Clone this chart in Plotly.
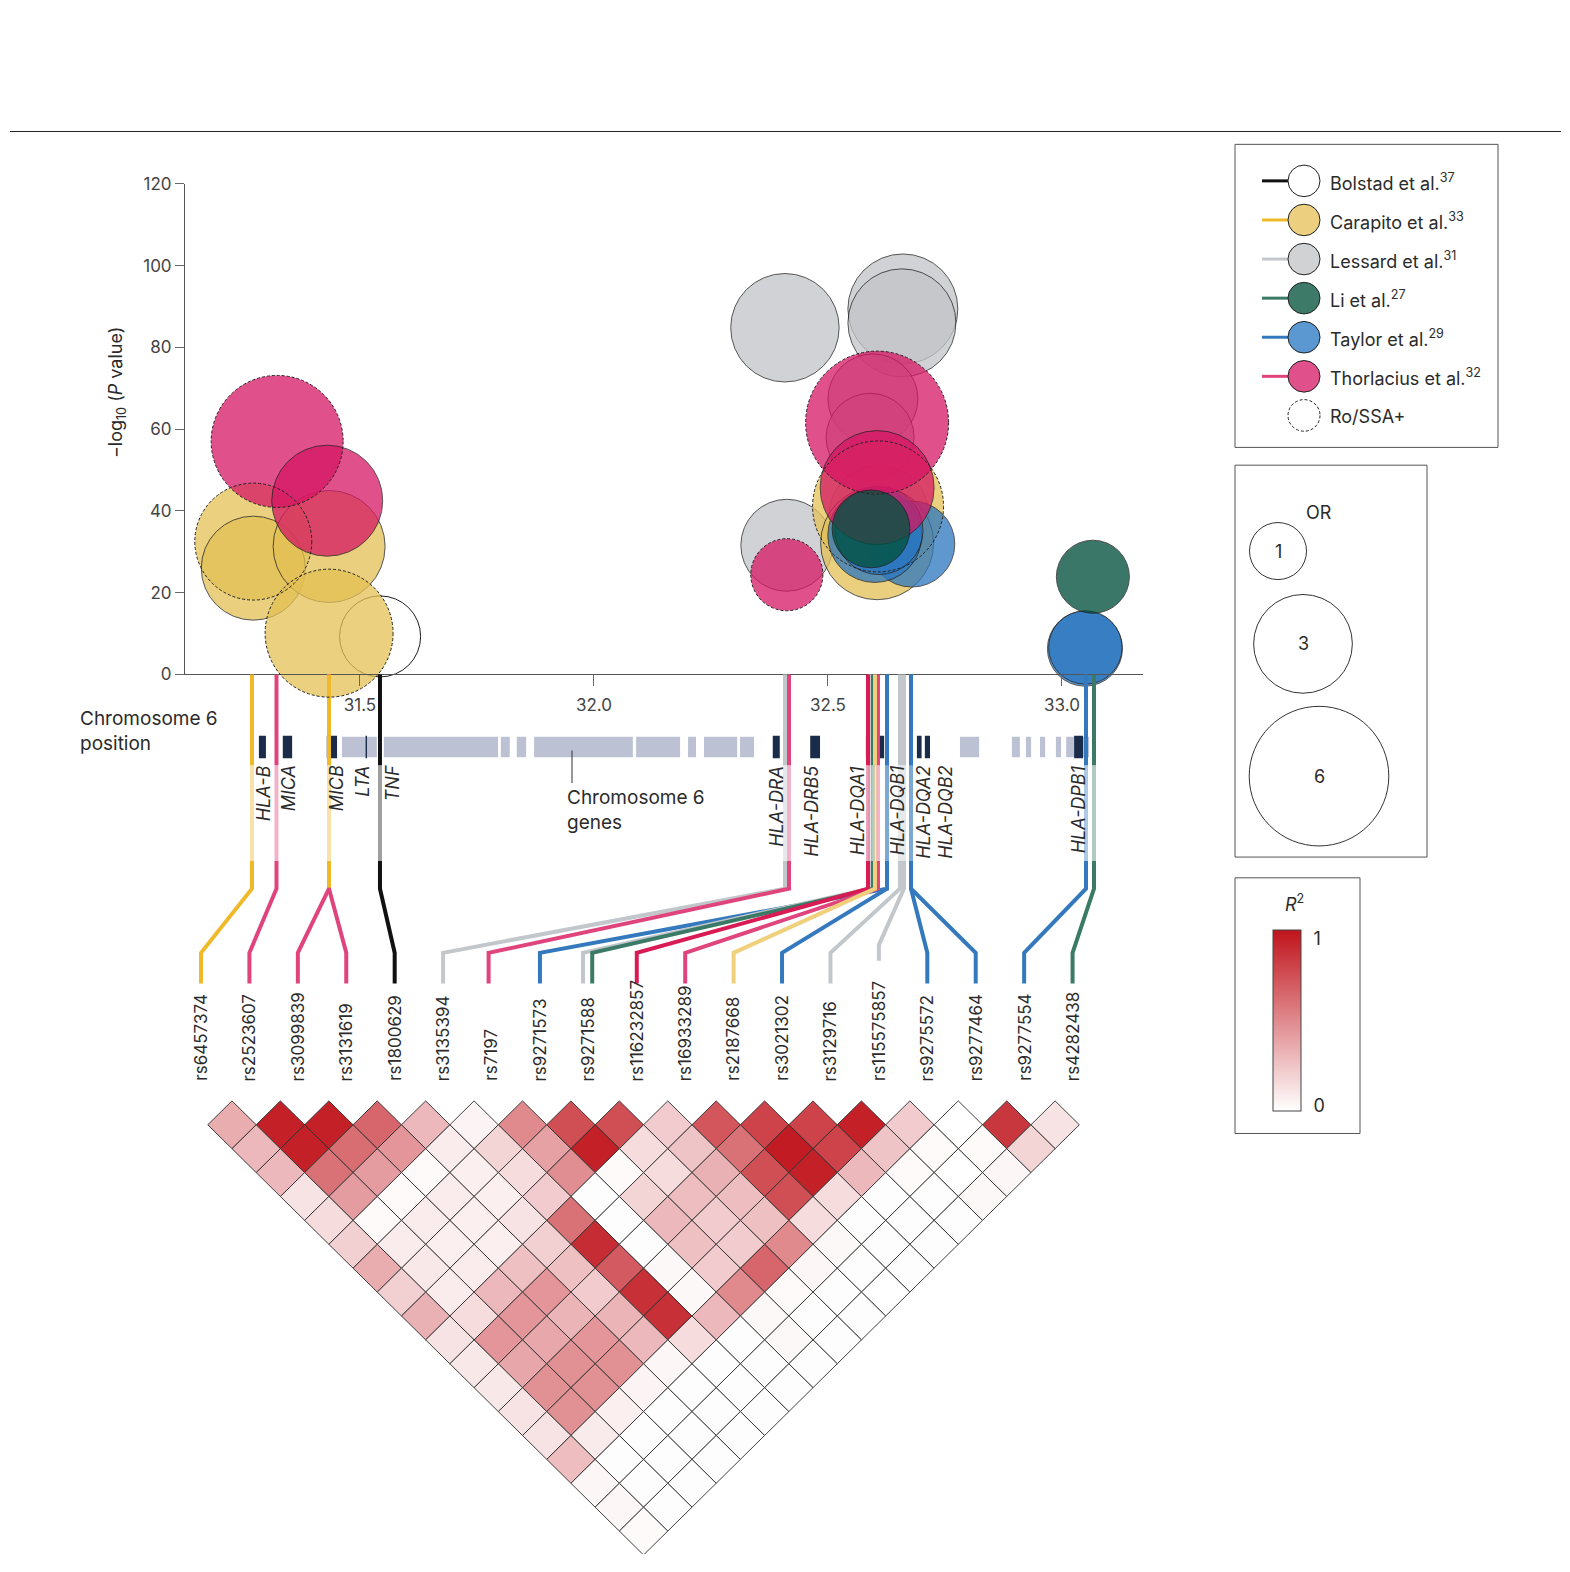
import math
import plotly.graph_objects as go

W, H = 1570, 1572

# ------------------------------------------------------------------ data
snp_ids = ["rs6457374", "rs2523607", "rs3099839", "rs3131619", "rs1800629", "rs3135394",
           "rs7197", "rs9271573", "rs9271588", "rs116232857", "rs16933289", "rs2187668",
           "rs3021302", "rs3129716", "rs115575857", "rs9275572", "rs9277464", "rs9277554",
           "rs4282438"]

study_names = ["Bolstad", "Carapito", "Lessard", "Li", "Taylor", "Thorlacius"]
study_refs = ["37", "33", "31", "27", "29", "32"]

# association bubbles: chromosome-6 position (Mb), -log10(P), odds ratio, Ro/SSA+ subgroup
bub_study = ["Bolstad",
             "Lessard", "Lessard", "Lessard", "Lessard", "Lessard", "Lessard", "Lessard",
             "Carapito", "Carapito", "Carapito", "Carapito", "Carapito", "Carapito",
             "Thorlacius", "Thorlacius", "Thorlacius", "Thorlacius", "Thorlacius",
             "Taylor", "Taylor", "Taylor", "Taylor", "Taylor",
             "Li", "Li"]
bub_pos = [31.543,
           32.408, 32.660, 32.658, 32.412, 32.596, 32.590, 32.609,
           31.272, 31.272, 31.434, 31.434, 32.607, 32.605,
           31.323, 31.430, 32.605, 32.605, 32.412,
           32.679, 32.600, 32.609, 33.049, 33.050,
           32.592, 33.066]
bub_logp = [9.3,
            84.8, 89.4, 86.0, 31.6, 67.4, 58.0, 38.9,
            32.5, 26.0, 31.3, 10.1, 41.1, 32.1,
            57.0, 42.5, 61.6, 45.7, 24.4,
            31.9, 34.0, 35.2, 6.3, 6.6,
            35.6, 23.9]
bub_or = [2.02,
          3.62, 3.72, 3.59, 2.60, 2.49, 2.38, 3.08,
          4.21, 3.33, 3.86, 5.04, 5.28, 3.93,
          5.36, 3.79, 6.29, 4.00, 1.60,
          2.28, 2.72, 2.38, 1.73, 1.66,
          1.86, 1.64]
bub_ro = [0,
          0, 0, 0, 0, 0, 0, 0,
          1, 0, 0, 1, 1, 0,
          1, 0, 1, 0, 1,
          0, 0, 0, 0, 0,
          0, 0]

# connectors: SNP index, SNP chromosome position (Mb), study
conn_snp = [0, 1, 2, 3, 4, 5, 6, 7, 8, 8, 9, 10, 11, 12, 13, 14, 15, 16, 17, 18]
conn_pos = [31.2692, 31.3216, 31.4338, 31.4338, 31.5427, 32.4081, 32.4167, 32.6261,
            32.5897, 32.5962, 32.5855, 32.6068, 32.6004, 32.6261, 32.6538, 32.6624,
            32.6774, 32.6774, 33.0513, 33.0684]
conn_study = ["Carapito", "Thorlacius", "Thorlacius", "Thorlacius", "Bolstad", "Lessard",
              "Thorlacius", "Taylor", "Lessard", "Li", "Lessard", "Thorlacius", "Carapito",
              "Taylor", "Lessard", "Lessard", "Taylor", "Taylor", "Taylor", "Li"]
stem_pos = [31.4338]
stem_study = ["Carapito"]

# genes (Mb)
gene_names = ["HLA-B", "MICA", "MICB", "LTA", "TNF", "HLA-DRA", "HLA-DRB5", "HLA-DQA1",
              "HLA-DQB1", "HLA-DQA2", "HLA-DQB2", "HLA-DPB1"]
gene_start = [31.284, 31.335, 31.429, 31.512, 31.541, 32.382, 32.462, 32.581,
              32.603, 32.690, 32.707, 33.026]
gene_end = [31.299, 31.355, 31.451, 31.515, 31.546, 32.397, 32.483, 32.598,
            32.620, 32.700, 32.718, 33.045]
other_start = [31.4615, 31.551, 31.801, 31.835, 31.872, 32.090, 32.201, 32.235, 32.312,
               32.782, 32.893, 32.923, 32.953, 32.987, 33.009]
other_end = [31.536, 31.795, 31.820, 31.855, 32.083, 32.184, 32.218, 32.306, 32.342,
             32.823, 32.910, 32.934, 32.964, 32.998, 33.058]

# pairwise LD (R^2), listed by distance k = j - i (k = 1..18), i = 0..18-k
r2_by_offset = [
    [0.35, 0.95, 0.95, 0.65, 0.30, 0.05, 0.50, 0.75, 0.75, 0.22, 0.72, 0.80, 0.80, 0.95, 0.22, 0.00, 0.85, 0.12],
    [0.30, 0.95, 0.62, 0.45, 0.08, 0.18, 0.40, 0.95, 0.15, 0.25, 0.60, 0.97, 0.80, 0.25, 0.02, 0.02, 0.18],
    [0.30, 0.60, 0.42, 0.02, 0.07, 0.15, 0.48, 0.02, 0.15, 0.33, 0.75, 0.95, 0.30, 0.02, 0.00, 0.04],
    [0.12, 0.42, 0.02, 0.08, 0.07, 0.22, 0.01, 0.18, 0.28, 0.28, 0.75, 0.15, 0.01, 0.01, 0.03],
    [0.15, 0.02, 0.08, 0.07, 0.12, 0.60, 0.01, 0.30, 0.22, 0.27, 0.15, 0.01, 0.01, 0.01],
    [0.20, 0.08, 0.07, 0.07, 0.20, 0.90, 0.01, 0.27, 0.22, 0.50, 0.03, 0.01, 0.01],
    [0.35, 0.10, 0.08, 0.27, 0.27, 0.70, 0.03, 0.22, 0.65, 0.04, 0.01, 0.01],
    [0.20, 0.08, 0.30, 0.45, 0.22, 0.88, 0.03, 0.50, 0.02, 0.01, 0.00],
    [0.33, 0.15, 0.45, 0.32, 0.32, 0.88, 0.30, 0.03, 0.01, 0.01],
    [0.12, 0.45, 0.37, 0.45, 0.30, 0.15, 0.01, 0.03, 0.01],
    [0.10, 0.38, 0.47, 0.47, 0.04, 0.01, 0.01, 0.01],
    [0.10, 0.47, 0.47, 0.05, 0.01, 0.01, 0.01],
    [0.12, 0.47, 0.07, 0.01, 0.01, 0.01],
    [0.12, 0.09, 0.01, 0.01, 0.01],
    [0.28, 0.01, 0.01, 0.01],
    [0.04, 0.01, 0.01],
    [0.04, 0.01],
    [0.02],
]

or_legend = [1, 3, 6]

# ------------------------------------------------------------------ style
FONT = "Inter"
TXT = "#2b2b2b"
FILL = {"Bolstad": "rgba(255,255,255,0.25)", "Carapito": "#e3c054", "Lessard": "#c2c4c7",
        "Li": "#03523e", "Taylor": "#2a76c0", "Thorlacius": "#d61663"}
ALPHA = {"Bolstad": 1.0, "Carapito": 0.75, "Lessard": 0.75, "Li": 0.78,
         "Taylor": 0.75, "Thorlacius": 0.75}
LEG_FILL = {"Bolstad": "#ffffff", "Carapito": "#ecd07f", "Lessard": "#d1d2d4",
            "Li": "#3d7a67", "Taylor": "#5b97d0", "Thorlacius": "#e0508a"}
LINE = {"Bolstad": "#111111", "Carapito": "#f0b92a", "Lessard": "#c2c7cb",
        "Li": "#3b7a66", "Taylor": "#3479bd", "Thorlacius": "#e0447c"}
CONN_COLOR_OVERRIDE = {10: "#d81b54", 12: "#f1d07c"}   # connector index -> shade
CONN_DX = {8: -0.11, 9: 0.08, 6: -0.06}
CONN_END = {15: (947, 963)}
DRAW_ORDER = ["Bolstad", "Lessard", "Carapito", "Taylor", "Thorlacius", "Li"]
R2_LO, R2_HI = (255, 255, 255), (192, 20, 28)


def size_of(o):
    return 57.0 * math.sqrt(o)


# ------------------------------------------------------------------ geometry helpers
# the page keeps the browser's default 8px body margin, so the figure is sized to fit
OX, OY = 8, 8
FW, FH = W - 2 * OX, H - 2 * OY


def P(px):
    return (px - OX) / FW


def Q(py):
    return 1 - (py - OY) / FH


U = 48.42                       # px per lower-axis unit


def lv(py):
    return (py - 1105) / U


X_RANGE = [31.1261, 33.1731]
Y_RANGE = [0, 120]
XD = (P(185), P(1143))
YD = (Q(673), Q(176))
X2_RANGE = [(185 - 201) / U, (1143 - 201) / U]
Y2_RANGE = [lv(OY + FH), lv(OY)]
HM_DX = 0.14


def mb_to_idx(mb):
    f = (mb - X_RANGE[0]) / (X_RANGE[1] - X_RANGE[0])
    return X2_RANGE[0] + f * (X2_RANGE[1] - X2_RANGE[0])


def mb_to_paper(mb):
    return XD[0] + (mb - X_RANGE[0]) / (X_RANGE[1] - X_RANGE[0]) * (XD[1] - XD[0])


def val_to_paper(v):
    return YD[0] + (v - Y_RANGE[0]) / (Y_RANGE[1] - Y_RANGE[0]) * (YD[1] - YD[0])


def r2_color(v):
    v = max(0.0, min(1.0, v))
    c = [round(a + (b - a) * v) for a, b in zip(R2_LO, R2_HI)]
    return "rgb(%d,%d,%d)" % tuple(c)


def text_at(px, py, text, size=18, xanchor="center", yanchor="middle", **kw):
    d = dict(xref="paper", yref="paper", x=P(px), y=Q(py), text=text, showarrow=False,
             xanchor=xanchor, yanchor=yanchor, font=dict(family=FONT, size=size, color=TXT))
    d.update(kw)
    return d


fig = go.Figure()
shapes = []
ann = []

# ------------------------------------------------------------------ bubbles
for st in DRAW_ORDER:
    idx = [k for k, s in enumerate(bub_study) if s == st]
    fig.add_trace(go.Scatter(
        x=[bub_pos[k] for k in idx], y=[bub_logp[k] for k in idx],
        mode="markers", xaxis="x", yaxis="y", cliponaxis=False,
        hoverinfo="skip", showlegend=False,
        marker=dict(size=[size_of(bub_or[k]) for k in idx], sizemode="diameter",
                    color=FILL[st], opacity=ALPHA[st],
                    line=dict(color="#1e1e1e",
                              width=[0 if bub_ro[k] else 1 for k in idx]))))
for k in range(len(bub_pos)):
    if bub_ro[k]:
        r = size_of(bub_or[k]) / 2
        shapes.append(dict(type="circle", xref="paper", yref="paper",
                           xsizemode="pixel", ysizemode="pixel",
                           xanchor=mb_to_paper(bub_pos[k]), yanchor=val_to_paper(bub_logp[k]),
                           x0=-r, x1=r, y0=-r, y1=r, layer="above",
                           line=dict(color="#222", width=1, dash="3px,2px")))

# ------------------------------------------------------------------ gene track
def rect_trace(starts, ends, color, y0, y1):
    xs, ys = [], []
    for a, b in zip(starts, ends):
        xa, xb = mb_to_idx(a), mb_to_idx(b)
        xs += [xa, xb, xb, xa, xa, None]
        ys += [lv(y0), lv(y0), lv(y1), lv(y1), lv(y0), None]
    return go.Scatter(x=xs, y=ys, xaxis="x2", yaxis="y2", mode="lines", fill="toself",
                      fillcolor=color, line=dict(width=0, color=color),
                      hoverinfo="skip", showlegend=False)


fig.add_trace(rect_trace(other_start, other_end, "#bcc2d4", 736, 757))
fig.add_trace(rect_trace(gene_start, gene_end, "#1b2c4a", 735, 758))

# ------------------------------------------------------------------ connectors
def add_path(xs, ys, color, opacity=1.0):
    fig.add_trace(go.Scatter(x=xs, y=ys, xaxis="x2", yaxis="y2", mode="lines",
                             line=dict(color=color, width=4), opacity=opacity,
                             hoverinfo="skip", showlegend=False))


for c in range(len(conn_snp)):
    col = CONN_COLOR_OVERRIDE.get(c, LINE[conn_study[c]])
    xt = mb_to_idx(conn_pos[c])
    xb = conn_snp[c] + CONN_DX.get(c, 0.0)
    knee, end = CONN_END.get(c, (955, 986))
    add_path([xt, xt], [lv(673), lv(765)], col)
    add_path([xt, xt], [lv(765), lv(862)], col, 0.4)
    add_path([xt, xt, xb, xb], [lv(862), lv(890), lv(knee), lv(end)], col)
for p, s in zip(stem_pos, stem_study):
    xt = mb_to_idx(p)
    add_path([xt, xt], [lv(673), lv(765)], LINE[s])
    add_path([xt, xt], [lv(765), lv(862)], "#ffffff")
    add_path([xt, xt], [lv(765), lv(862)], LINE[s], 0.4)
    add_path([xt, xt], [lv(862), lv(889)], LINE[s])

# ------------------------------------------------------------------ LD heatmap
for k, row in enumerate(r2_by_offset, start=1):
    for i, v in enumerate(row):
        j = i + k
        cx = (i + j) / 2 + HM_DX
        cy = (j - i) / 2
        fig.add_trace(go.Scatter(
            x=[cx - 0.5, cx, cx + 0.5, cx, cx - 0.5],
            y=[cy, cy - 0.5, cy, cy + 0.5, cy],
            xaxis="x2", yaxis="y2", mode="lines", fill="toself",
            fillcolor=r2_color(v), line=dict(color="rgba(45,45,45,0.9)", width=1),
            hoverinfo="skip", showlegend=False))

# colour bar for R^2
fig.add_trace(go.Scatter(
    x=[X2_RANGE[0] - 5], y=[0], xaxis="x2", yaxis="y2", mode="markers",
    hoverinfo="skip", showlegend=False,
    marker=dict(size=1, opacity=0, color=[0], cmin=0, cmax=1,
                colorscale=[[0, "rgb(%d,%d,%d)" % R2_LO], [1, "rgb(%d,%d,%d)" % R2_HI]],
                showscale=True,
                colorbar=dict(x=P(1273), xanchor="left", y=Q(932), yanchor="top",
                              len=181, lenmode="pixels", thickness=28,
                              thicknessmode="pixels", outlinewidth=1, outlinecolor="#444",
                              tickvals=[0.03, 0.95], ticktext=["0", "1"],
                              ticks="outside", ticklen=9, tickcolor="rgba(0,0,0,0)",
                              tickfont=dict(family=FONT, size=18, color=TXT),
                              xpad=0, ypad=0, borderwidth=0))))

# ------------------------------------------------------------------ text: SNPs and genes
for i, s in enumerate(snp_ids):
    ann.append(dict(xref="x2", yref="y2", x=i, y=lv(1087), text=s, textangle=-90,
                    showarrow=False, xanchor="center", yanchor="bottom",
                    font=dict(family=FONT, size=17, color=TXT)))

gene_label_pos = [31.2927, 31.3462, 31.4487, 31.5064, 31.5684, 32.391, 32.4658, 32.562,
                  32.6474, 32.7051, 32.7521, 33.0342]
for g, p in zip(gene_names, gene_label_pos):
    ann.append(dict(xref="x2", yref="y2", x=mb_to_idx(p), y=lv(763), text="<i>%s</i>" % g,
                    textangle=-90, showarrow=False, xanchor="center", yanchor="top",
                    font=dict(family=FONT, size=18, color=TXT)))

ann.append(text_at(78, 704, "Chromosome 6<br>position", 19, "left", "top", align="left"))
ann.append(text_at(565, 784, "Chromosome 6<br>genes", 19, "left", "top", align="left"))
shapes.append(dict(type="line", xref="paper", yref="paper", x0=P(572), x1=P(572),
                   y0=Q(750), y1=Q(783), line=dict(color="#333", width=1)))
ann.append(text_at(117, 388, "\u2212log<sub>10</sub> (<i>P</i> value)", 18, textangle=-90))

# top rule
shapes.append(dict(type="line", xref="paper", yref="paper", x0=P(10), x1=P(1561),
                   y0=Q(123), y1=Q(123), line=dict(color="#222", width=1.2)))

# ------------------------------------------------------------------ legends
BOX = dict(color="#555", width=1)
shapes.append(dict(type="rect", xref="paper", yref="paper", x0=P(1235), x1=P(1498),
                   y0=Q(443), y1=Q(136), line=BOX))
shapes.append(dict(type="rect", xref="paper", yref="paper", x0=P(1235), x1=P(1427),
                   y0=Q(858), y1=Q(461), line=BOX))
shapes.append(dict(type="rect", xref="paper", yref="paper", x0=P(1235), x1=P(1360),
                   y0=Q(1138), y1=Q(879), line=BOX))

leg_rows = [173 + 39.6 * k for k in range(7)]
for k, (st, ref) in enumerate(zip(study_names, study_refs)):
    y = leg_rows[k]
    shapes.append(dict(type="line", xref="paper", yref="paper", x0=P(1262), x1=P(1290),
                       y0=Q(y), y1=Q(y), line=dict(color=LINE[st], width=3)))
    shapes.append(dict(type="circle", xref="paper", yref="paper",
                       x0=P(1304 - 16), x1=P(1304 + 16), y0=Q(y + 16), y1=Q(y - 16),
                       fillcolor=LEG_FILL[st], line=dict(color="#222", width=1)))
    ann.append(text_at(1328, y + 1, "%s et al.<sup>%s</sup>" % (st, ref), 18, "left", "middle"))
y = leg_rows[6]
shapes.append(dict(type="circle", xref="paper", yref="paper",
                   x0=P(1304 - 16), x1=P(1304 + 16), y0=Q(y + 16), y1=Q(y - 16),
                   fillcolor="#ffffff", line=dict(color="#222", width=1, dash="3px,2px")))
ann.append(text_at(1328, y + 1, "Ro/SSA+", 18, "left", "middle"))

# OR legend
ann.append(text_at(1319, 509, "OR", 18))
or_centres = [(1278, 548), (1303, 642), (1319, 776)]
for o, (cx, cy) in zip(or_legend, or_centres):
    r = size_of(o) / 2
    shapes.append(dict(type="circle", xref="paper", yref="paper",
                       xsizemode="pixel", ysizemode="pixel", xanchor=P(cx), yanchor=Q(cy),
                       x0=-r, x1=r, y0=-r, y1=r, fillcolor="#ffffff",
                       line=dict(color="#333", width=1)))
    ann.append(text_at(cx, cy, str(o), 18))

ann.append(text_at(1294, 905, "<i>R</i><sup>2</sup>", 18))

# ------------------------------------------------------------------ layout
fig.update_layout(
    width=FW, height=FH, autosize=False,
    margin=dict(l=0, r=0, t=0, b=0),
    paper_bgcolor="#ffffff", plot_bgcolor="rgba(0,0,0,0)",
    showlegend=False,
    font=dict(family=FONT, color=TXT),
    xaxis=dict(domain=list(XD), range=X_RANGE, showgrid=False, zeroline=False,
               showline=True, linecolor="#555", linewidth=1, anchor="y",
               tickvals=[31.5, 32.0, 32.5, 33.0], ticktext=["31.5", "32.0", "32.5", "33.0"],
               ticks="outside", ticklen=11, tickcolor="#666", ticklabelstandoff=4,
               tickfont=dict(family=FONT, size=17, color="#444")),
    yaxis=dict(domain=list(YD), range=Y_RANGE, showgrid=False, zeroline=False,
               showline=True, linecolor="#555", linewidth=1, anchor="x",
               tickvals=[0, 20, 40, 60, 80, 100, 120],
               ticks="outside", ticklen=9, tickcolor="#666",
               tickfont=dict(family=FONT, size=17, color="#444")),
    xaxis2=dict(domain=list(XD), range=X2_RANGE, visible=False, anchor="y2"),
    yaxis2=dict(domain=[0, 1], range=Y2_RANGE, visible=False, anchor="x2"),
    shapes=shapes, annotations=ann,
)

fig.write_html("out.html", config={"displayModeBar": False})
